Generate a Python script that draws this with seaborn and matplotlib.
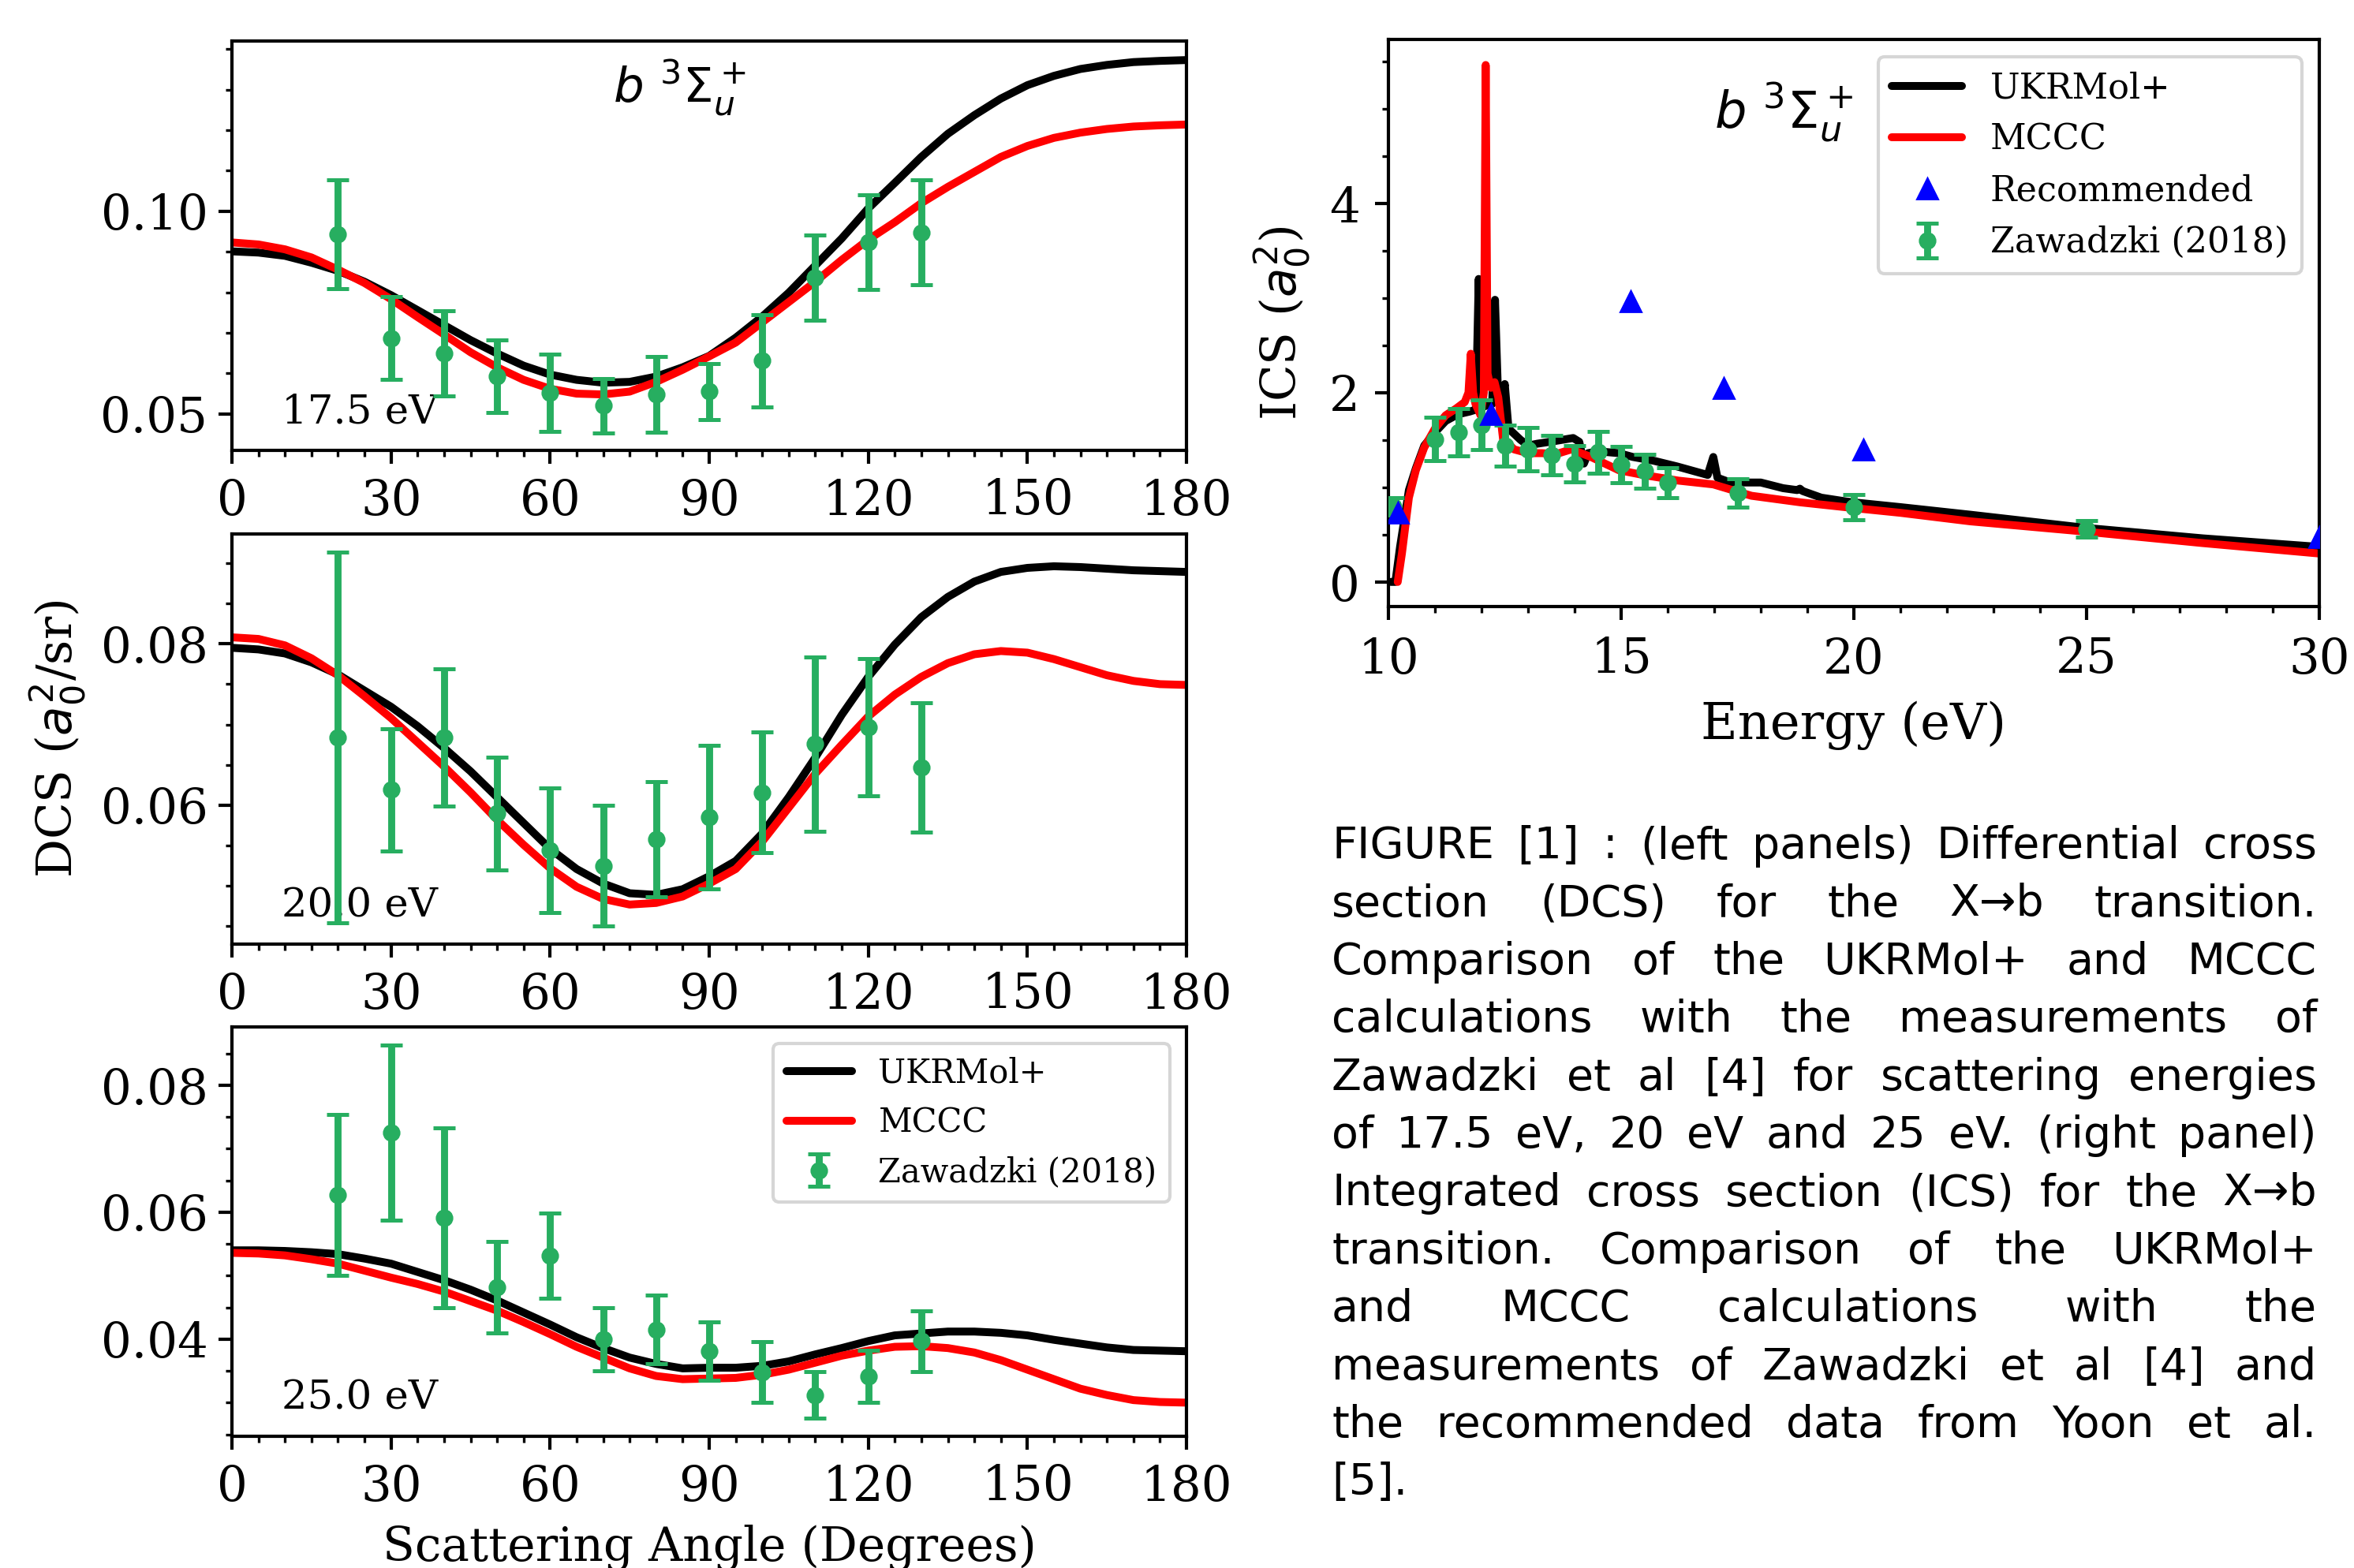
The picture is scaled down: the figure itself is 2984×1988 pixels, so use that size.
import matplotlib
matplotlib.use("Agg")
import matplotlib.pyplot as plt
import numpy as np
import pandas as pd
import seaborn as sns
from matplotlib.ticker import MultipleLocator
from matplotlib.transforms import IdentityTransform
from matplotlib.lines import Line2D

# ---------------- data ----------------
angles = list(range(0, 181, 5))
angles_exp = [20, 30, 40, 50, 60, 70, 80, 90, 100, 110, 120, 130]

ukr_17 = [0.0901, 0.0898, 0.0890, 0.0873, 0.0853, 0.0826, 0.0793, 0.0756, 0.0719, 0.0682,
          0.0649, 0.0619, 0.0597, 0.0584, 0.0577, 0.0579, 0.0592, 0.0615, 0.0643, 0.0688,
          0.0740, 0.0799, 0.0866, 0.0933, 0.1007, 0.1070, 0.1134, 0.1191, 0.1237, 0.1278,
          0.1311, 0.1334, 0.1351, 0.1361, 0.1368, 0.1371, 0.1373]
mccc_17 = [0.0923, 0.0918, 0.0906, 0.0886, 0.0856, 0.0823, 0.0783, 0.0739, 0.0696, 0.0652,
           0.0615, 0.0584, 0.0562, 0.0550, 0.0548, 0.0555, 0.0579, 0.0609, 0.0642, 0.0676,
           0.0726, 0.0776, 0.0826, 0.0880, 0.0930, 0.0973, 0.1020, 0.1060, 0.1097, 0.1134,
           0.1161, 0.1181, 0.1194, 0.1203, 0.1209, 0.1212, 0.1214]
zaw_17 = [0.0943, 0.0687, 0.0650, 0.0593, 0.0552, 0.0520, 0.0548, 0.0555, 0.0631, 0.0836, 0.0924, 0.0948]
zaw_17_err = [0.0135, 0.0102, 0.0105, 0.0090, 0.0095, 0.0067, 0.0093, 0.0070, 0.0113, 0.0105, 0.0117, 0.0129]

ukr_20 = [0.0795, 0.0793, 0.0788, 0.0777, 0.0762, 0.0742, 0.0722, 0.0698, 0.0671, 0.0642,
          0.0610, 0.0578, 0.0546, 0.0521, 0.0503, 0.0491, 0.0489, 0.0496, 0.0512, 0.0531,
          0.0565, 0.0610, 0.0659, 0.0712, 0.0759, 0.0799, 0.0833, 0.0858, 0.0877, 0.0889,
          0.0894, 0.0896, 0.0895, 0.0893, 0.0891, 0.0890, 0.0889]
mccc_20 = [0.0808, 0.0806, 0.0798, 0.0782, 0.0761, 0.0735, 0.0708, 0.0678, 0.0648, 0.0616,
           0.0582, 0.0551, 0.0522, 0.0499, 0.0484, 0.0477, 0.0479, 0.0487, 0.0503, 0.0521,
           0.0555, 0.0597, 0.0639, 0.0675, 0.0710, 0.0737, 0.0759, 0.0776, 0.0787, 0.0791,
           0.0789, 0.0781, 0.0771, 0.0761, 0.0754, 0.0750, 0.0749]
zaw_20 = [0.0684, 0.0619, 0.0684, 0.0590, 0.0544, 0.0525, 0.0558, 0.0585, 0.0616, 0.0676, 0.0697, 0.0647]
zaw_20_err = [0.0230, 0.0076, 0.0085, 0.0070, 0.0077, 0.0075, 0.0071, 0.0089, 0.0075, 0.0108, 0.0085, 0.0080]

ukr_25 = [0.0540, 0.0540, 0.0539, 0.0537, 0.0534, 0.0527, 0.0519, 0.0506, 0.0493, 0.0478,
          0.0461, 0.0442, 0.0423, 0.0403, 0.0386, 0.0371, 0.0361, 0.0354, 0.0355, 0.0355,
          0.0358, 0.0365, 0.0376, 0.0386, 0.0397, 0.0406, 0.0409, 0.0412, 0.0412, 0.0410,
          0.0406, 0.0399, 0.0393, 0.0387, 0.0383, 0.0382, 0.0381]
mccc_25 = [0.0536, 0.0535, 0.0532, 0.0526, 0.0519, 0.0508, 0.0497, 0.0487, 0.0475, 0.0460,
           0.0445, 0.0427, 0.0408, 0.0388, 0.0371, 0.0354, 0.0342, 0.0337, 0.0338, 0.0339,
           0.0344, 0.0352, 0.0363, 0.0374, 0.0382, 0.0388, 0.0389, 0.0386, 0.0379, 0.0367,
           0.0352, 0.0337, 0.0322, 0.0312, 0.0304, 0.0301, 0.0300]
zaw_25 = [0.0627, 0.0726, 0.0591, 0.0482, 0.0532, 0.0400, 0.0415, 0.0381, 0.0348, 0.0312, 0.0341, 0.0397]
zaw_25_err = [0.0127, 0.0138, 0.0142, 0.0072, 0.0067, 0.0050, 0.0054, 0.0046, 0.0048, 0.0037, 0.0041, 0.0048]

energy_labels = ["17.5 eV", "20.0 eV", "25.0 eV"]

# ICS panel
ics_ukr_E = [10.05, 10.15, 10.25, 10.44, 10.59, 10.77, 11.0, 11.23, 11.49, 11.75, 11.88, 11.94,
             12.0, 12.09, 12.23, 12.29, 12.36, 12.45, 12.5, 12.58, 12.84, 13.0, 13.2, 13.6,
             13.97, 14.1, 14.2, 14.29, 14.5, 14.95, 15.25, 15.7, 16.2, 16.86, 16.98, 17.07,
             17.35, 18.0, 18.48, 18.78, 18.84, 18.9, 19.3, 19.83, 20.0, 21.0, 22.5, 25.0,
             27.5, 30.0]
ics_ukr = [0.0, 0.0, 0.37, 0.97, 1.20, 1.44, 1.58, 1.70, 1.77, 1.80, 1.82, 3.20,
           1.84, 1.86, 1.88, 2.98, 1.90, 1.92, 2.09, 1.62, 1.50, 1.44, 1.46, 1.49,
           1.52, 1.48, 1.25, 1.36, 1.38, 1.36, 1.32, 1.28, 1.22, 1.13, 1.32, 1.10,
           1.05, 1.05, 0.99, 0.97, 0.985, 0.96, 0.89, 0.85, 0.84, 0.79, 0.71, 0.57,
           0.46, 0.37]
ics_mccc_E = [10.2, 10.29, 10.44, 10.59, 10.77, 11.0, 11.23, 11.45, 11.64, 11.72, 11.77, 11.82,
              11.87, 11.98, 12.05, 12.09, 12.13, 12.2, 12.28, 12.36, 12.47, 12.58, 12.7, 13.0,
              13.3, 13.6, 13.93, 14.35, 14.95, 15.47, 16.23, 16.98, 17.8, 18.86, 20.0, 21.0,
              22.5, 25.0, 27.5, 30.0]
ics_mccc = [0.0, 0.30, 0.89, 1.18, 1.42, 1.62, 1.76, 1.83, 1.90, 2.00, 2.41, 2.00,
            1.88, 1.76, 2.00, 5.46, 2.20, 2.05, 2.11, 1.95, 1.48, 1.46, 1.40, 1.36,
            1.36, 1.35, 1.40, 1.32, 1.18, 1.13, 1.07, 1.03, 0.91, 0.84, 0.78, 0.73,
            0.64, 0.53, 0.41, 0.30]
rec_E = [10.2, 12.2, 15.2, 17.2, 20.2, 30.0]
rec_ics = [0.73, 1.77, 2.96, 2.05, 1.40, 0.47]
zaw_E = [10.1, 11.0, 11.5, 12.0, 12.5, 13.0, 13.5, 14.0, 14.5, 15.0, 15.5, 16.0, 17.5, 20.0, 25.0]
zaw_ics = [0.80, 1.51, 1.58, 1.66, 1.44, 1.40, 1.34, 1.25, 1.37, 1.24, 1.17, 1.05, 0.94, 0.79, 0.56]
zaw_ics_err = [0.09, 0.23, 0.25, 0.26, 0.22, 0.23, 0.21, 0.19, 0.22, 0.19, 0.18, 0.16, 0.15, 0.13, 0.09]

caption_lines = [
    "FIGURE [1] : (left panels) Differential cross",
    "section (DCS) for the X\u2192b transition.",
    "Comparison of the UKRMol+ and MCCC",
    "calculations with the measurements of",
    "Zawadzki et al [4] for scattering energies",
    "of 17.5 eV, 20 eV and 25 eV. (right panel)",
    "Integrated cross section (ICS) for the X\u2192b",
    "transition. Comparison of the UKRMol+",
    "and MCCC calculations with the",
    "measurements of Zawadzki et al [4] and",
    "the recommended data from Yoon et al.",
    "[5].",
]

# ---------------- style ----------------
sns.set_style("ticks")
plt.rcParams.update({
    "font.family": ["DejaVu Serif"],
    "mathtext.fontset": "dejavusans",
    "axes.edgecolor": "black",
    "axes.linewidth": 1.5,
    "xtick.color": "black", "ytick.color": "black",
    "text.color": "black", "axes.labelcolor": "black",
    "xtick.direction": "out", "ytick.direction": "out",
    "xtick.major.size": 6, "xtick.minor.size": 3,
    "ytick.major.size": 6, "ytick.minor.size": 3,
    "xtick.major.width": 1.5, "xtick.minor.width": 1.2,
    "ytick.major.width": 1.5, "ytick.minor.width": 1.2,
    "axes.facecolor": "white",
})

W, H, DPI = 2984, 1988, 200
fig = plt.figure(figsize=(W / DPI, H / DPI), dpi=DPI)

GREEN = "#27ae60"
LW = 3.6
TICK_FS = 22
LABEL_FS = 22
LEG_FS = 15
EB_KW = dict(fmt="o", color=GREEN, ms=7, elinewidth=3.2, capsize=5.2, capthick=1.8, zorder=5)

left_rects = [
    [294 / W, 1 - 571 / H, 1210 / W, 519 / H],
    [294 / W, 1 - 1197 / H, 1210 / W, 520 / H],
    [294 / W, 1 - 1821 / H, 1210 / W, 519 / H],
]
panels = [
    (ukr_17, mccc_17, zaw_17, zaw_17_err, (0.041, 0.142), 0.05, 0.01),
    (ukr_20, mccc_20, zaw_20, zaw_20_err, (0.0428, 0.0936), 0.02, 0.005),
    (ukr_25, mccc_25, zaw_25, zaw_25_err, (0.0247, 0.0892), 0.02, 0.005),
]

axes = []
for i, (rect, (u, m, z, ze, ylim, ymaj, ymin)) in enumerate(zip(left_rects, panels)):
    ax = fig.add_axes(rect)
    axes.append(ax)
    sns.lineplot(x=angles, y=u, color="black", linewidth=LW, ax=ax, legend=False)
    sns.lineplot(x=angles, y=m, color="red", linewidth=LW, ax=ax, legend=False)
    eb = ax.errorbar(angles_exp, z, yerr=ze, **EB_KW)
    ax.set_xlim(0, 180)
    ax.set_ylim(*ylim)
    ax.xaxis.set_major_locator(MultipleLocator(30))
    ax.xaxis.set_minor_locator(MultipleLocator(5))
    ax.yaxis.set_major_locator(MultipleLocator(ymaj))
    ax.yaxis.set_minor_locator(MultipleLocator(ymin))
    ax.tick_params(labelsize=TICK_FS)
    ax.tick_params(axis="x", which="major", pad=6.2)
    ax.tick_params(axis="y", which="major", pad=5.0)
    ax.set_xlabel("")
    ax.set_ylabel("")
    ax.text(0.052, 0.045, energy_labels[i], transform=ax.transAxes, fontsize=18.5,
            ha="left", va="bottom")
    if i == 2:
        handles = [Line2D([], [], color="black", lw=LW), Line2D([], [], color="red", lw=LW), eb]
        ax.legend(handles, ["UKRMol+", "MCCC", "Zawadzki (2018)"], loc="upper right",
                  fontsize=LEG_FS, frameon=True, fancybox=True, edgecolor="0.8",
                  framealpha=0.8).get_frame().set_linewidth(1.5)

axes[0].text(0.469, 0.886, r"$b\ ^3\Sigma_u^+$", transform=axes[0].transAxes,
             fontsize=22, ha="center", va="center")
axes[1].set_ylabel(r"DCS ($a_0^2$/sr)", fontsize=LABEL_FS, labelpad=6)
axes[2].set_xlabel("Scattering Angle (Degrees)", fontsize=21.5, labelpad=6.5)

# ICS panel
axr = fig.add_axes([1760 / W, 1 - 769 / H, 1180 / W, 719 / H])
sns.lineplot(x=ics_ukr_E, y=ics_ukr, color="black", linewidth=LW, ax=axr, legend=False)
sns.lineplot(x=ics_mccc_E, y=ics_mccc, color="red", linewidth=LW, ax=axr, legend=False)
rec_line, = axr.plot(rec_E, rec_ics, linestyle="none", marker="^", color="blue", ms=9.5, zorder=6)
ebr = axr.errorbar(zaw_E, zaw_ics, yerr=zaw_ics_err, **EB_KW)
axr.set_xlim(10, 30)
axr.set_ylim(-0.26, 5.73)
axr.xaxis.set_major_locator(MultipleLocator(5))
axr.xaxis.set_minor_locator(MultipleLocator(1))
axr.yaxis.set_major_locator(MultipleLocator(2))
axr.yaxis.set_minor_locator(MultipleLocator(0.5))
axr.tick_params(labelsize=TICK_FS)
axr.tick_params(axis="x", which="major", pad=7.5)
axr.tick_params(axis="y", which="major", pad=7.0)
axr.set_xlabel("Energy (eV)", fontsize=23, labelpad=8)
axr.set_ylabel(r"ICS ($a_0^2$)", fontsize=LABEL_FS, labelpad=8)
axr.text(0.425, 0.871, r"$b\ ^3\Sigma_u^+$", transform=axr.transAxes,
         fontsize=23, ha="center", va="center")
hr = [Line2D([], [], color="black", lw=LW), Line2D([], [], color="red", lw=LW),
      Line2D([], [], linestyle="none", marker="^", color="blue", ms=9.5), ebr]
axr.legend(hr, ["UKRMol+", "MCCC", "Recommended", "Zawadzki (2018)"], loc="upper right",
           fontsize=16, frameon=True, fancybox=True, edgecolor="0.8",
           framealpha=0.8).get_frame().set_linewidth(1.5)

# ---------------- justified caption ----------------
fig.canvas.draw()
renderer = fig.canvas.get_renderer()
CAP_FS = 20
x_left, x_right = 1688, 2937
base0, step = 1088, 73.4
space_w = 0.318 * CAP_FS * DPI / 72
for k, line in enumerate(caption_lines):
    words = line.split(" ")
    y = H - (base0 + k * step)
    texts = [fig.text(0, y, w, transform=IdentityTransform(), fontsize=CAP_FS,
                      family=["DejaVu Sans"], ha="left", va="baseline") for w in words]
    widths = [t.get_window_extent(renderer).width for t in texts]
    if k < len(caption_lines) - 1 and len(words) > 1:
        gap = (x_right - x_left - sum(widths)) / (len(words) - 1)
    else:
        gap = space_w
    x = x_left
    for t, w in zip(texts, widths):
        t.set_x(x)
        x += w + gap

fig.savefig("out.png", dpi=DPI)
